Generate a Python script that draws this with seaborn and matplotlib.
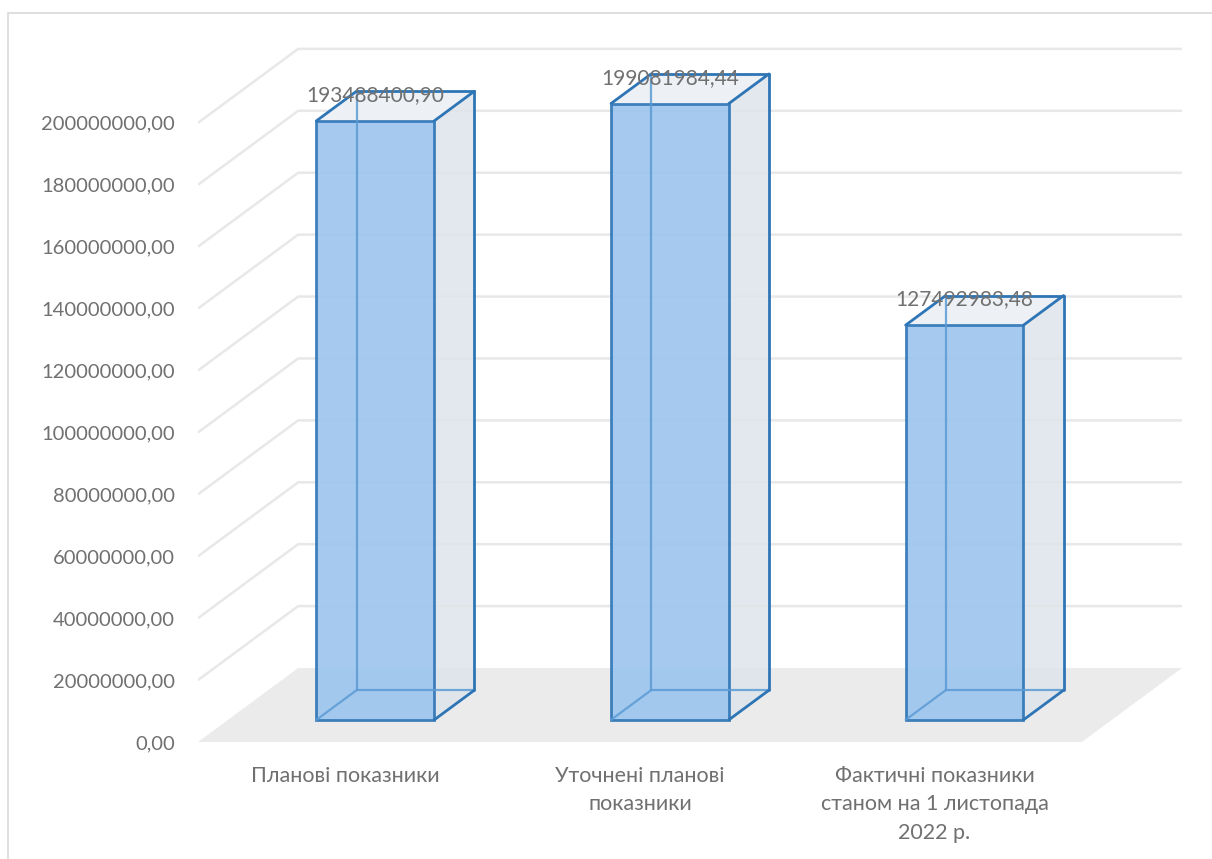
import matplotlib
matplotlib.use("Agg")
import matplotlib.pyplot as plt
import matplotlib.transforms as mtransforms
from matplotlib.patches import Polygon, Rectangle
import seaborn as sns
import pandas as pd

# Budget figures (UAH)
categories = [
    "Планові показники",
    "Уточнені планові\nпоказники",
    "Фактичні показники\nстаном на 1 листопада\n2022 р.",
]
values = [193488400.90, 199081984.44, 127492983.48]
value_labels = ["193488400,90", "199081984,44", "127492983,48"]
y_ticks = list(range(0, 200000001, 20000000))

sns.set_theme(style="white")
plt.rcParams["font.family"] = ["Lato", "DejaVu Sans"]

TEXT = "#707070"
EDGE = "#2e75b6"
INNER = "#5b9bd5"
FRONT = "#9cc5ee"
TOP = "#edf1f6"
SIDE = "#dfe5eb"
FLOOR = "#ebebeb"
GRID = "#e8e8e8"

# oblique depth: full depth of the plot box in data units
DX, DY = 0.34, 23.9e6
Z0, Z1 = 0.3, 0.7          # bars occupy this slice of the depth
BAR_W = 0.4

W, H = 1212, 859
fig = plt.figure(figsize=(W / 100, H / 100), dpi=100)
fig.patch.set_facecolor("white")

# chart-area border
fig.patches.append(Rectangle((8 / W, -0.02), 1.1, 1 - 13 / H + 0.02,
                             transform=fig.transFigure, fill=False,
                             edgecolor="#d9d9d9", lw=1.2))

left_px, right_px, bottom_px, top_px = 198, 1182, 742, 30
ax = fig.add_axes([left_px / W, 1 - bottom_px / H,
                   (right_px - left_px) / W, (bottom_px - top_px) / H])

df = pd.DataFrame({"cat": categories, "val": values})
sns.barplot(data=df, x="cat", y="val", width=BAR_W, color=FRONT,
            saturation=1, edgecolor=EDGE, linewidth=2, alpha=0.9,
            ax=ax, zorder=5)

ax.set_xlim(-0.5, 2.5 + DX)
ax.set_ylim(0, 230e6)


def off(x, y, z):
    return (x + z * DX, y + z * DY)


# floor
floor = Polygon([off(-0.5, 0, 0), off(2.5, 0, 0), off(2.5, 0, 1), off(-0.5, 0, 1)],
                closed=True, facecolor=FLOOR, edgecolor="none", zorder=1)
ax.add_patch(floor)

# wall gridlines
for v in y_ticks[1:]:
    xs = [-0.5, -0.5 + DX, 2.5 + DX]
    ys = [v, v + DY, v + DY]
    ax.plot(xs, ys, color=GRID, lw=1.8, zorder=0.5, solid_capstyle="butt")

# shift seaborn's front faces into their depth slot and add the other faces
for i, (patch, v) in enumerate(zip(ax.patches[:len(values)], values)):
    x0 = patch.get_x()
    x1 = x0 + patch.get_width()
    patch.set_transform(mtransforms.Affine2D().translate(Z0 * DX, Z0 * DY) + ax.transData)

    fbl, fbr = off(x0, 0, Z0), off(x1, 0, Z0)
    ftl, ftr = off(x0, v, Z0), off(x1, v, Z0)
    bbl, bbr = off(x0, 0, Z1), off(x1, 0, Z1)
    btl, btr = off(x0, v, Z1), off(x1, v, Z1)

    # hidden edges seen through the translucent box
    for a, b in [(btl, bbl), (bbl, bbr), (fbl, bbl)]:
        ax.plot([a[0], b[0]], [a[1], b[1]], color=INNER, lw=1.6, alpha=0.85,
                zorder=5.5)

    ax.add_patch(Polygon([fbr, bbr, btr, ftr], closed=True, facecolor=SIDE,
                         alpha=0.85, edgecolor="none", zorder=2))
    ax.add_patch(Polygon([ftl, ftr, btr, btl], closed=True, facecolor=TOP,
                         edgecolor="none", zorder=2))
    for a, b in [(ftl, btl), (btl, btr), (btr, ftr), (btr, bbr), (bbr, fbr)]:
        ax.plot([a[0], b[0]], [a[1], b[1]], color=EDGE, lw=2, zorder=6,
                solid_capstyle="round")

    cx = (x0 + x1) / 2 + Z0 * DX
    ax.text(cx, v + Z1 * DY - 1.3e6, value_labels[i], ha="center", va="center",
            fontsize=15, color=TEXT, zorder=7)

ax.set_yticks(y_ticks)
ax.set_yticklabels([f"{t:.2f}".replace(".", ",") for t in y_ticks])
ax.set_xticks(range(len(categories)))
ax.set_xticklabels(categories, linespacing=1.55)
ax.tick_params(axis="y", length=0, pad=16.5, labelsize=14.5, labelcolor=TEXT)
ax.tick_params(axis="x", length=0, pad=17, labelsize=15.5, labelcolor=TEXT)
ax.set_xlabel("")
ax.set_ylabel("")
ax.grid(False)
for s in ax.spines.values():
    s.set_visible(False)
ax.set_facecolor("none")

fig.savefig("out.png", dpi=100, facecolor="white")
